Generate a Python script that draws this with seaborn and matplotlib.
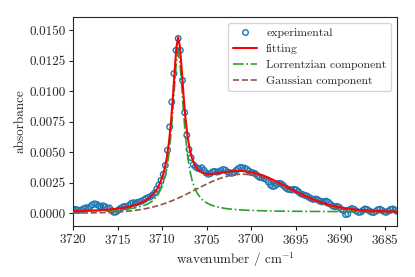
import numpy as np
import pandas as pd
import matplotlib
matplotlib.use("Agg")
import matplotlib.pyplot as plt
import seaborn as sns
from matplotlib.ticker import FormatStrFormatter
from matplotlib.lines import Line2D

# measured spectrum (evenly spaced, high -> low wavenumber)
wn_start, wn_stop = 3720.0, 3683.6
absorbance = [
    0.00028, 0.00030, 0.00026, 0.00022, 0.00027, 0.00036, 0.00044, 0.00040, 0.00052, 0.00068,
    0.00076, 0.00072, 0.00060, 0.00055, 0.00060, 0.00052, 0.00038, 0.00042, 0.00020, 0.00006,
    0.00008, 0.00022, 0.00038, 0.00048, 0.00055, 0.00050, 0.00062, 0.00078, 0.00085, 0.00080,
    0.00088, 0.00092, 0.00098, 0.00108, 0.00120, 0.00128, 0.00135, 0.00148, 0.00165, 0.00198,
    0.00232, 0.00268, 0.00318, 0.00392, 0.00516, 0.00707, 0.00912, 0.01145, 0.01336, 0.01433,
    0.01336, 0.01090, 0.00825, 0.00639, 0.00522, 0.00455, 0.00398, 0.00380, 0.00368, 0.00362,
    0.00372, 0.00352, 0.00330, 0.00318, 0.00325, 0.00338, 0.00342, 0.00336, 0.00340, 0.00350,
    0.00358, 0.00352, 0.00338, 0.00332, 0.00326, 0.00334, 0.00350, 0.00366, 0.00375, 0.00372,
    0.00368, 0.00360, 0.00345, 0.00332, 0.00330, 0.00322, 0.00305, 0.00292, 0.00290, 0.00284,
    0.00276, 0.00255, 0.00230, 0.00218, 0.00222, 0.00236, 0.00244, 0.00240, 0.00226, 0.00208,
    0.00196, 0.00192, 0.00190, 0.00195, 0.00190, 0.00176, 0.00160, 0.00152, 0.00146, 0.00140,
    0.00128, 0.00118, 0.00112, 0.00116, 0.00110, 0.00098, 0.00092, 0.00095, 0.00098, 0.00088,
    0.00072, 0.00058, 0.00052, 0.00055, 0.00048, 0.00030, 0.00020, -0.00012, -0.00008, 0.00030,
    0.00038, 0.00030, 0.00016, 0.00006, 0.00008, 0.00022, 0.00034, 0.00030, 0.00018, 0.00008,
    0.00004, 0.00014, 0.00028, 0.00032, 0.00022, 0.00010, 0.00006, 0.00018, 0.00030, 0.00034,
    0.00024, 0.00014,
]

# fitted curves, read at these wavenumbers
curve_wn = [
    3720, 3718, 3716, 3714, 3713, 3712, 3711.5, 3711, 3710.5, 3710,
    3709.75, 3709.5, 3709.25, 3709, 3708.8, 3708.6, 3708.4, 3708.2, 3708.0, 3707.8,
    3707.6, 3707.4, 3707.15, 3706.9, 3706.65, 3706.4, 3706, 3705.5, 3705, 3704.5,
    3704, 3703, 3702, 3701, 3700, 3699, 3698, 3697, 3696, 3695,
    3694, 3693, 3692, 3691, 3690, 3688, 3686, 3684, 3683.6,
]
lorentz = [
    0.000157, 0.000182, 0.000230, 0.000333, 0.000437, 0.000630, 0.000793, 0.001043, 0.001451, 0.002171,
    0.002747, 0.003568, 0.004758, 0.006486, 0.008330, 0.010472, 0.012392, 0.013200, 0.012392, 0.010472,
    0.008330, 0.006486, 0.004758, 0.003568, 0.002747, 0.002171, 0.001563, 0.001109, 0.000835, 0.000657,
    0.000537, 0.000388, 0.000304, 0.000252, 0.000217, 0.000194, 0.000176, 0.000163, 0.000153, 0.000146,
    0.000139, 0.000134, 0.000130, 0.000127, 0.000124, 0.000120, 0.000116, 0.000114, 0.000113,
]
gauss = [
    0.000004, 0.000015, 0.000050, 0.000141, 0.000223, 0.000342, 0.000417, 0.000504, 0.000603, 0.000716,
    0.000777, 0.000841, 0.000909, 0.000980, 0.001039, 0.001100, 0.001163, 0.001227, 0.001293, 0.001361,
    0.001430, 0.001500, 0.001590, 0.001681, 0.001773, 0.001866, 0.002015, 0.002201, 0.002380, 0.002551,
    0.002709, 0.002972, 0.003141, 0.003200, 0.003141, 0.002972, 0.002709, 0.002380, 0.002015, 0.001644,
    0.001293, 0.000980, 0.000716, 0.000504, 0.000342, 0.000141, 0.000050, 0.000015, 0.000012,
]
fitting = [
    0.000161, 0.000197, 0.000280, 0.000474, 0.000660, 0.000972, 0.001210, 0.001547, 0.002054, 0.002887,
    0.003524, 0.004409, 0.005667, 0.007466, 0.009369, 0.011572, 0.013555, 0.014427, 0.013685, 0.011833,
    0.009760, 0.007986, 0.006348, 0.005249, 0.004520, 0.004037, 0.003578, 0.003310, 0.003215, 0.003208,
    0.003246, 0.003360, 0.003445, 0.003452, 0.003358, 0.003166, 0.002885, 0.002543, 0.002168, 0.001790,
    0.001432, 0.001114, 0.000846, 0.000631, 0.000466, 0.000261, 0.000166, 0.000129, 0.000125,
]

wavenumber = np.linspace(wn_start, wn_stop, len(absorbance))
df_exp = pd.DataFrame({"wavenumber": wavenumber, "absorbance": absorbance})
df_fit = pd.DataFrame({"wavenumber": curve_wn, "fitting": fitting,
                       "lorentz": lorentz, "gauss": gauss})

sns.set_style("ticks")
plt.rcParams["font.family"] = ["cmr10", "DejaVu Serif"]
plt.rcParams["mathtext.fontset"] = "cm"
plt.rcParams["axes.formatter.use_mathtext"] = True

fig = plt.figure(figsize=(4.15, 2.77), dpi=100)
ax = fig.add_axes([0.176, 0.185, 0.781, 0.754])

blue, green, brown = "#1f77b4", "#2ca02c", "#8c564b"

sns.scatterplot(data=df_exp, x="wavenumber", y="absorbance", ax=ax, marker="o",
                s=16, facecolors="none", edgecolor=blue, linewidth=1.0, zorder=2)
sns.lineplot(data=df_fit, x="wavenumber", y="fitting", ax=ax, color="red",
             linewidth=1.5, sort=False, zorder=4)
sns.lineplot(data=df_fit, x="wavenumber", y="lorentz", ax=ax, color=green,
             linewidth=1.2, linestyle="-.", sort=False, zorder=3)
sns.lineplot(data=df_fit, x="wavenumber", y="gauss", ax=ax, color=brown,
             linewidth=1.2, linestyle="--", sort=False, zorder=3)

ax.set_xlim(wn_start, wn_stop)
ax.set_ylim(-0.00104, 0.0161)
ax.set_xticks([3720, 3715, 3710, 3705, 3700, 3695, 3690, 3685])
ax.set_yticks([0, 0.0025, 0.005, 0.0075, 0.01, 0.0125, 0.015])
ax.yaxis.set_major_formatter(FormatStrFormatter("%.4f"))
ax.tick_params(labelsize=9.5, length=3, pad=2.5)
ax.set_xlabel(r"wavenumber / cm$^{-1}$", fontsize=9.5, labelpad=2)
ax.set_ylabel("absorbance", fontsize=9.5, labelpad=2)

handles = [
    Line2D([], [], marker="o", linestyle="none", markerfacecolor="none",
           markeredgecolor=blue, markersize=4, markeredgewidth=1.0),
    Line2D([], [], color="red", linewidth=1.5),
    Line2D([], [], color=green, linewidth=1.2, linestyle="-."),
    Line2D([], [], color=brown, linewidth=1.2, linestyle="--"),
]
labels = ["experimental", "fitting", "Lorrentzian component", "Gaussian component"]
ax.legend(handles, labels, loc="upper right", fontsize=8.5, frameon=True)

fig.savefig("out.png", dpi=100)
